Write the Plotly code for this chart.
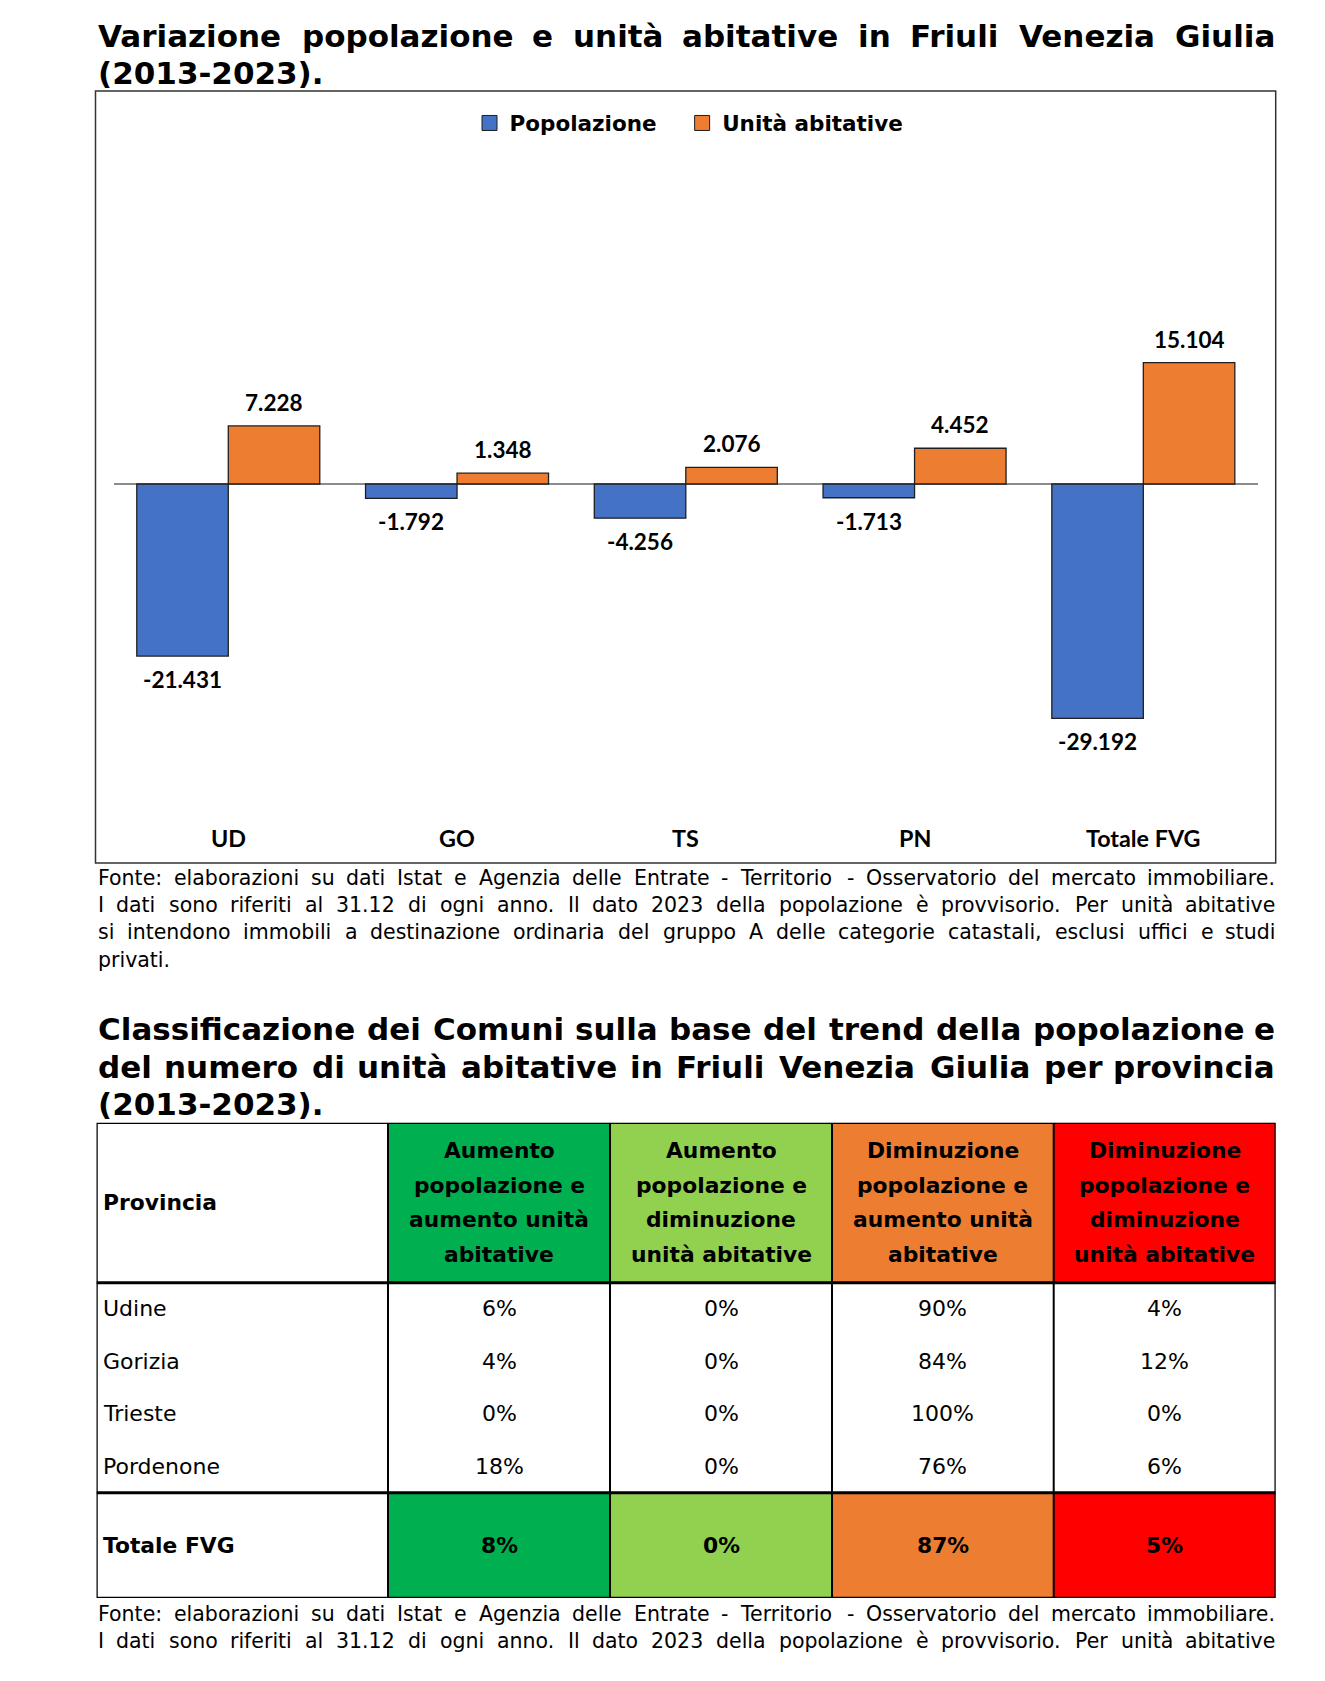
import glob
import struct
import plotly.graph_objects as go

# ---------------- data ----------------
categories = ["UD", "GO", "TS", "PN", "Totale FVG"]
popolazione = [-21431, -1792, -4256, -1713, -29192]
unita_abitative = [7228, 1348, 2076, 4452, 15104]
series_names = ["Popolazione", "Unità abitative"]

province = ["Udine", "Gorizia", "Trieste", "Pordenone"]
totale_label = "Totale FVG"
provincia_header = "Provincia"
class_headers = [
    ["Aumento", "popolazione e", "aumento unità", "abitative"],
    ["Aumento", "popolazione e", "diminuzione", "unità abitative"],
    ["Diminuzione", "popolazione e", "aumento unità", "abitative"],
    ["Diminuzione", "popolazione e", "diminuzione", "unità abitative"],
]
aum_pop_aum_ua = [6, 4, 0, 18]
aum_pop_dim_ua = [0, 0, 0, 0]
dim_pop_aum_ua = [90, 84, 100, 76]
dim_pop_dim_ua = [4, 12, 0, 6]
totale_fvg = [8, 0, 87, 5]

title1 = ["Variazione popolazione e unità abitative in Friuli Venezia Giulia", "(2013-2023)."]
title2 = ["Classificazione dei Comuni sulla base del trend della popolazione e",
          "del numero di unità abitative in Friuli Venezia Giulia per provincia",
          "(2013-2023)."]
note1 = ["Fonte: elaborazioni su dati Istat e Agenzia delle Entrate - Territorio - Osservatorio del mercato immobiliare.",
         "I dati sono riferiti al 31.12 di ogni anno. Il dato 2023 della popolazione è provvisorio. Per unità abitative",
         "si intendono immobili a destinazione ordinaria del gruppo A delle categorie catastali, esclusi uffici e studi",
         "privati."]
note2 = note1[:2]

# ---------------- font metrics (for justified text) ----------------
def _parse_ttf(path):
    data = open(path, "rb").read()
    num = struct.unpack(">H", data[4:6])[0]
    tables = {}
    for i in range(num):
        tag, _cs, off, ln = struct.unpack(">4sIII", data[12 + 16 * i:28 + 16 * i])
        tables[tag.decode("latin1")] = off
    upem = struct.unpack(">H", data[tables["head"] + 18:tables["head"] + 20])[0]
    hh = tables["hhea"]
    nh = struct.unpack(">H", data[hh + 34:hh + 36])[0]
    hm = tables["hmtx"]
    adv = [struct.unpack(">H", data[hm + 4 * i:hm + 4 * i + 2])[0] for i in range(nh)]
    cm = tables["cmap"]
    n = struct.unpack(">H", data[cm + 2:cm + 4])[0]
    sub = None
    for i in range(n):
        pid, eid, off = struct.unpack(">HHI", data[cm + 4 + 8 * i:cm + 12 + 8 * i])
        fmt = struct.unpack(">H", data[cm + off:cm + off + 2])[0]
        if fmt == 4 and (sub is None or (pid == 3 and eid == 1)):
            sub = cm + off
    segx2 = struct.unpack(">H", data[sub + 6:sub + 8])[0]
    seg = segx2 // 2
    ends = struct.unpack(">%dH" % seg, data[sub + 14:sub + 14 + segx2])
    so = sub + 16 + segx2
    starts = struct.unpack(">%dH" % seg, data[so:so + segx2])
    do = so + segx2
    deltas = struct.unpack(">%dh" % seg, data[do:do + segx2])
    ro = do + segx2
    ros = struct.unpack(">%dH" % seg, data[ro:ro + segx2])

    def gid(c):
        for i in range(seg):
            if starts[i] <= c <= ends[i]:
                if ros[i] == 0:
                    return (c + deltas[i]) & 0xFFFF
                addr = ro + 2 * i + ros[i] + 2 * (c - starts[i])
                g = struct.unpack(">H", data[addr:addr + 2])[0]
                return (g + deltas[i]) & 0xFFFF if g else 0
        return 0

    def width(ch):
        g = gid(ord(ch))
        return (adv[g] if g < nh else adv[-1]) / upem
    return width


def font_width_fn(fname, fallback):
    for root in ["/usr/share/fonts", "/usr/local/share/fonts", "/usr/share/fonts/truetype", "/root/.fonts"]:
        for p in glob.glob(root + "/**/" + fname, recursive=True):
            try:
                return _parse_ttf(p)
            except Exception:
                pass
    return lambda ch: fallback


W_REG = font_width_fn("DejaVuSans.ttf", 0.58)
W_BOLD = font_width_fn("DejaVuSans-Bold.ttf", 0.66)

# ---------------- styles ----------------
W, H = 1325, 1681
OFF = 8  # page margin of the html body
def X(px): return (px - OFF) / W
def Y(py): return 1 - (py - OFF) / H

BLUE, ORANGE = "#4472C4", "#ED7D31"
class_colors = ["#00B050", "#92D050", "#ED7D31", "#FF0000"]
VER = "DejaVu Sans"
CAL = "Lato"
LEFT, RIGHT = 96.5, 1275.7

fig = go.Figure()

# ---------------- bar chart ----------------
for name, vals, col in [(series_names[0], popolazione, BLUE), (series_names[1], unita_abitative, ORANGE)]:
    fig.add_trace(go.Bar(x=categories, y=vals, name=name, showlegend=False,
                         marker=dict(color=col, line=dict(color="#1f1f1f", width=1.3)),
                         hoverinfo="skip", xaxis="x", yaxis="y"))
# legend entries (trailing no-break spaces widen the gap between the two entries)
for name, col, pad in [(series_names[0], BLUE, "\u00a0\u00a0\u00a0"), (series_names[1], ORANGE, "")]:
    fig.add_trace(go.Scatter(x=[None], y=[None], mode="markers", name=f"<b>{name}</b>{pad}",
                             marker=dict(symbol="square", size=15, color=col, line=dict(color="#1f1f1f", width=1)),
                             hoverinfo="skip", xaxis="x", yaxis="y"))

zero_px, ppk = 484, 8.03 / 1000.0
top_px, bot_px = 140, 850
yr = [-(bot_px - zero_px) / ppk, (zero_px - top_px) / ppk]

def it(v):
    return f"{v:,}".replace(",", ".")

ann = []
for i, c in enumerate(categories):
    for off, vals in [(-0.2, popolazione), (0.2, unita_abitative)]:
        v = vals[i]
        ann.append(dict(x=i + off, y=v, xref="x", yref="y", text=f"<b>{it(v)}</b>", showarrow=False,
                        yanchor="middle", yshift=23.5 if v > 0 else -23.5,
                        font=dict(family=CAL, size=22.5, color="black")))
    ann.append(dict(x=i, y=Y(838), xref="x", yref="paper", text=f"<b>{c}</b>",
                    showarrow=False, yanchor="middle", font=dict(family=CAL, size=23.3, color="black")))


def add_word(x, y, t, size, bold, anchor):
    ann.append(dict(x=X(x), y=Y(y), xref="paper", yref="paper", xanchor=anchor, yanchor="middle",
                    text=f"<b>{t}</b>" if bold else t, showarrow=False, borderpad=0,
                    font=dict(family=VER, size=size, color="black")))


def text_block(lines, y0, dy, size, bold, n_just):
    wf = W_BOLD if bold else W_REG
    for k, line in enumerate(lines):
        y = y0 + k * dy
        words = line.split(" ")
        if k < n_just and len(words) > 1:
            ws = [sum(wf(ch) for ch in w) * size for w in words]
            sp = wf(" ") * size
            extra = (RIGHT - LEFT - sum(ws) - sp * (len(words) - 1)) / (len(words) - 1)
            x = LEFT
            for i, (w, wd) in enumerate(zip(words, ws)):
                if i == len(words) - 1:
                    add_word(RIGHT, y, w, size, bold, "right")
                else:
                    add_word(x, y, w, size, bold, "left")
                x += wd + sp + extra
        else:
            add_word(LEFT, y, line, size, bold, "left")


text_block(title1, 35.5, 37.5, 31, True, 1)
text_block(note1, 878, 27.2, 20.5, False, 3)
text_block(title2, 1029, 37.5, 31, True, 2)
text_block(note2, 1614, 27.2, 20.5, False, 2)

# ---------------- table (drawn on its own axes) ----------------
col_w = [291.5, 222, 222, 221.7, 222]
row_h = [160, 52.5, 52.5, 52.5, 52.5, 105.3]
x_edges = [0]
for w in col_w:
    x_edges.append(x_edges[-1] + w)
y_edges = [0]
for h in row_h:
    y_edges.append(y_edges[-1] + h)
ncol, nrow = len(col_w), len(row_h)

z = []
for r in range(nrow):
    if r == 0 or r == nrow - 1:
        z.append([0] + [j + 1 for j in range(4)])
    else:
        z.append([0] * ncol)
pal = ["#FFFFFF"] + class_colors
cs = []
for k, c in enumerate(pal):
    cs.append([k / len(pal), c])
    cs.append([(k + 1) / len(pal), c])
fig.add_trace(go.Heatmap(x=x_edges, y=y_edges, z=z, colorscale=cs, zmin=-0.5, zmax=len(pal) - 0.5,
                         showscale=False, hoverinfo="skip", xaxis="x2", yaxis="y2"))

shapes = []
shapes.append(dict(type="rect", xref="paper", yref="paper", x0=X(95.5), x1=X(1275.7), y0=Y(863), y1=Y(91),
                   line=dict(color="#333333", width=1.5)))
for xe in x_edges[1:-1]:
    shapes.append(dict(type="line", xref="x2", yref="y2", x0=xe, x1=xe, y0=0, y1=y_edges[-1],
                       line=dict(color="black", width=2)))
for ye in [y_edges[1], y_edges[-2]]:
    shapes.append(dict(type="line", xref="x2", yref="y2", x0=0, x1=x_edges[-1], y0=ye, y1=ye,
                       line=dict(color="black", width=3)))
shapes.append(dict(type="rect", xref="x2", yref="y2", x0=0, x1=x_edges[-1], y0=0, y1=y_edges[-1],
                   line=dict(color="black", width=2.5)))

def cx(j): return (x_edges[j] + x_edges[j + 1]) / 2
def cy(r): return (y_edges[r] + y_edges[r + 1]) / 2

def tcell(x, y, t, size=22, bold=False, anchor="center"):
    ann.append(dict(x=x, y=y, xref="x2", yref="y2", text=f"<b>{t}</b>" if bold else t, showarrow=False,
                    xanchor=anchor, yanchor="middle", borderpad=0,
                    font=dict(family=VER, size=size, color="black")))

HB = 21.8
tcell(x_edges[0] + 5.5, cy(0), provincia_header, size=HB, bold=True, anchor="left")
for j, lines in enumerate(class_headers):
    n = len(lines)
    for k, t in enumerate(lines):
        tcell(cx(j + 1), cy(0) + (k - (n - 1) / 2) * 34.5, t, size=HB, bold=True)
cols = [aum_pop_aum_ua, aum_pop_dim_ua, dim_pop_aum_ua, dim_pop_dim_ua]
for r, p in enumerate(province):
    tcell(x_edges[0] + 5.5, cy(r + 1), p, anchor="left")
    for j, col in enumerate(cols):
        tcell(cx(j + 1), cy(r + 1), f"{col[r]}%")
tcell(x_edges[0] + 5.5, cy(nrow - 1), totale_label, size=HB, bold=True, anchor="left")
for j, v in enumerate(totale_fvg):
    tcell(cx(j + 1), cy(nrow - 1), f"{v}%", size=HB, bold=True)

fig.update_layout(
    width=W, height=H, margin=dict(l=0, r=0, t=0, b=0),
    paper_bgcolor="white", plot_bgcolor="rgba(0,0,0,0)",
    barmode="group", bargap=0.2, bargroupgap=0,
    showlegend=True,
    legend=dict(orientation="h", x=X(469.5), xanchor="left", y=Y(123), yanchor="middle",
                font=dict(family=VER, size=21.5, color="black"), traceorder="normal",
                itemclick=False, itemdoubleclick=False, bgcolor="rgba(0,0,0,0)"),
    xaxis=dict(domain=[X(113.9), X(1257.7)], range=[-0.5, 4.5], showticklabels=False, showgrid=False,
               zeroline=False, showline=False, fixedrange=True),
    yaxis=dict(domain=[Y(bot_px), Y(top_px)], range=yr, showticklabels=False, showgrid=False,
               zeroline=True, zerolinecolor="#8c8c8c", zerolinewidth=1.5, showline=False, fixedrange=True),
    xaxis2=dict(domain=[X(96.5), X(1275.7)], range=[0, x_edges[-1]], visible=False, fixedrange=True),
    yaxis2=dict(domain=[Y(1598), Y(1122.7)], range=[y_edges[-1], 0], visible=False, fixedrange=True),
    annotations=ann, shapes=shapes,
)

fig.write_html("out.html")
